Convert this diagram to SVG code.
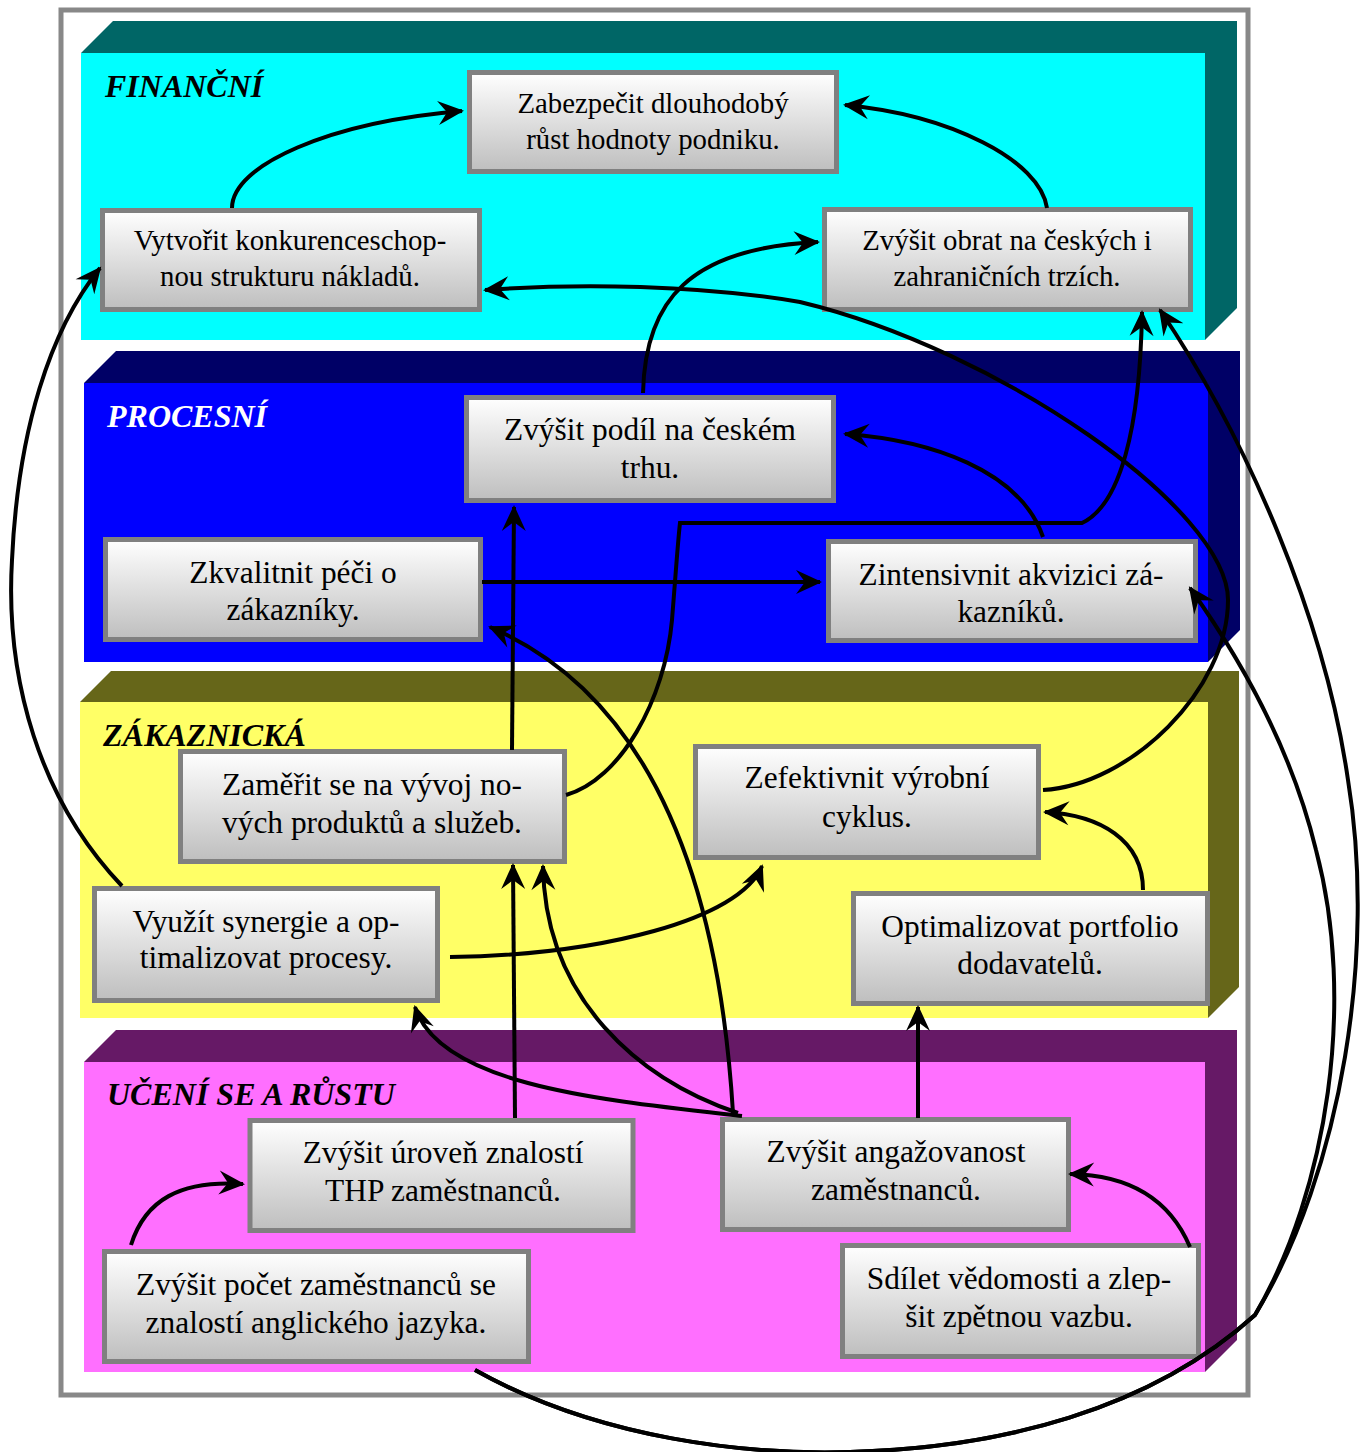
<svg xmlns="http://www.w3.org/2000/svg" width="1363" height="1452" viewBox="0 0 1363 1452">
  <defs>
    <linearGradient id="boxFill" x1="0" y1="0" x2="0" y2="1">
      <stop offset="0" stop-color="#FFFFFF"/>
      <stop offset="1" stop-color="#BEBEBE"/>
    </linearGradient>
    <marker id="arrow" viewBox="-26 -13 29 26" refX="0" refY="0" markerWidth="29" markerHeight="26" orient="auto" markerUnits="userSpaceOnUse">
      <path d="M2,0 L-24,-12 L-15,0 L-24,12 Z" fill="#000"/>
    </marker>
  </defs>
  <style>
    .frame { fill: #FFFFFF; stroke: #888888; stroke-width: 5; }
    .node rect { fill: url(#boxFill); stroke: #808080; stroke-width: 5; }
    .node text { font-family: "Liberation Serif", "Times New Roman", serif; font-size: 31.4px; text-anchor: middle; fill: #000; }
    .node.small text { font-size: 28.8px; }
    .band-label { font-family: "Liberation Serif", "Times New Roman", serif; font-weight: bold; font-style: italic; font-size: 32px; }
    .connectors path { fill: none; stroke: #000; stroke-width: 4; marker-end: url(#arrow); }
  </style>

  <rect x="0" y="0" width="1363" height="1452" fill="#FFFFFF"/>
  <rect class="frame" x="61" y="10" width="1187" height="1385"/>

  <!-- perspective bands -->
  <g id="band-financni">
    <polygon points="81,53 113,21 1237,21 1237,308 1205,340 1205,53" fill="#006666"/>
    <rect x="81" y="53" width="1124" height="287" fill="#00FFFF"/>
    <text class="band-label" x="105" y="97" fill="#000">FINANČNÍ</text>
  </g>
  <g id="band-procesni">
    <polygon points="84,383 116,351 1240,351 1240,630 1208,662 1208,383" fill="#000066"/>
    <rect x="84" y="383" width="1124" height="279" fill="#0000FF"/>
    <text class="band-label" x="107" y="427" fill="#FFFFFF">PROCESNÍ</text>
  </g>
  <g id="band-zakaznicka">
    <polygon points="80,702 111,671 1239,671 1239,987 1208,1018 1208,702" fill="#666619"/>
    <rect x="80" y="702" width="1128" height="316" fill="#FFFF66"/>
    <text class="band-label" x="103" y="746" fill="#000">ZÁKAZNICKÁ</text>
  </g>
  <g id="band-uceni">
    <polygon points="84,1062 116,1030 1237,1030 1237,1340 1205,1372 1205,1062" fill="#661966"/>
    <rect x="84" y="1062" width="1121" height="310" fill="#FF6FFF"/>
    <text class="band-label" x="107" y="1105" fill="#000">UČENÍ SE A RŮSTU</text>
  </g>

  <!-- objectives -->
  <g id="n-rust-hodnoty" class="node small">
    <rect x="469.5" y="72.5" width="367" height="99"/>
    <text x="653" y="113">Zabezpečit dlouhodobý</text>
    <text x="653" y="149">růst hodnoty podniku.</text>
  </g>
  <g id="n-struktura-nakladu" class="node small">
    <rect x="102.5" y="210.5" width="377" height="99"/>
    <text x="290" y="250">Vytvořit konkurenceschop-</text>
    <text x="290" y="286">nou strukturu nákladů.</text>
  </g>
  <g id="n-obrat" class="node small">
    <rect x="824.5" y="209.5" width="366" height="100"/>
    <text x="1007" y="250">Zvýšit obrat na českých i</text>
    <text x="1007" y="286">zahraničních trzích.</text>
  </g>
  <g id="n-podil-trhu" class="node">
    <rect x="466.5" y="397.5" width="367" height="103"/>
    <text x="650" y="440">Zvýšit podíl na českém</text>
    <text x="650" y="478">trhu.</text>
  </g>
  <g id="n-pece-o-zakazniky" class="node">
    <rect x="105.5" y="539.5" width="375" height="100"/>
    <text x="293" y="583">Zkvalitnit péči o</text>
    <text x="293" y="620">zákazníky.</text>
  </g>
  <g id="n-akvizice" class="node">
    <rect x="828.5" y="541.5" width="367" height="99"/>
    <text x="1011" y="585">Zintensivnit akvizici zá-</text>
    <text x="1011" y="622">kazníků.</text>
  </g>
  <g id="n-vyvoj-produktu" class="node">
    <rect x="180.5" y="751.5" width="384" height="110"/>
    <text x="372" y="795">Zaměřit se na vývoj no-</text>
    <text x="372" y="833">vých produktů a služeb.</text>
  </g>
  <g id="n-vyrobni-cyklus" class="node">
    <rect x="695.5" y="746.5" width="343" height="111"/>
    <text x="867" y="788">Zefektivnit výrobní</text>
    <text x="867" y="827">cyklus.</text>
  </g>
  <g id="n-synergie" class="node">
    <rect x="94.5" y="888.5" width="343" height="112"/>
    <text x="266" y="932">Využít synergie a op-</text>
    <text x="266" y="968">timalizovat procesy.</text>
  </g>
  <g id="n-dodavatele" class="node">
    <rect x="853.5" y="893.5" width="354" height="110"/>
    <text x="1030" y="937">Optimalizovat portfolio</text>
    <text x="1030" y="974">dodavatelů.</text>
  </g>
  <g id="n-znalosti-thp" class="node">
    <rect x="250" y="1120.5" width="383" height="110"/>
    <text x="443" y="1163">Zvýšit úroveň znalostí</text>
    <text x="443" y="1201">THP zaměstnanců.</text>
  </g>
  <g id="n-angazovanost" class="node">
    <rect x="722.5" y="1119.5" width="346" height="110"/>
    <text x="896" y="1162">Zvýšit angažovanost</text>
    <text x="896" y="1200">zaměstnanců.</text>
  </g>
  <g id="n-anglictina" class="node">
    <rect x="104.5" y="1251.5" width="424" height="110"/>
    <text x="316" y="1295">Zvýšit počet zaměstnanců se</text>
    <text x="316" y="1333">znalostí anglického jazyka.</text>
  </g>
  <g id="n-vedomosti" class="node">
    <rect x="842.5" y="1245.5" width="356" height="111"/>
    <text x="1019" y="1289">Sdílet vědomosti a zlep-</text>
    <text x="1019" y="1327">šit zpětnou vazbu.</text>
  </g>

  <!-- cause-effect links -->
  <g id="connectors" class="connectors">
    <path d="M232,208 C232,165 330,122 462,111"/>
    <path d="M1047,208 C1040,160 950,115 845,105"/>
    <path d="M643,393 C645,300 690,248 818,242"/>
    <path d="M475,1370 C600,1440 750,1455 850,1452 C1000,1448 1150,1410 1255,1315 C1343,1170 1376,950 1348,780 C1325,620 1248,440 1160,310"/>
    <path d="M475,1370 C600,1440 750,1455 850,1452 C1000,1448 1150,1410 1255,1315 C1328,1190 1356,1000 1316,850 C1293,755 1245,665 1190,588"/>
    <path d="M566,795 C620,780 665,700 672,620 C676,570 678,540 680,523 L1082,523 C1120,505 1140,430 1142,312"/>
    <path d="M122,886 C40,800 5,680 12,560 C18,430 50,330 100,268"/>
    <path d="M482,582 L820,582"/>
    <path d="M512,750 L514,507"/>
    <path d="M515,1118 L513,865"/>
    <path d="M738,1113 C640,1080 545,1000 543,866"/>
    <path d="M742,1116 C600,1100 440,1085 415,1007"/>
    <path d="M733,1113 C720,900 660,700 490,627"/>
    <path d="M918,1118 L918,1007"/>
    <path d="M1143,890 C1143,840 1100,815 1045,812"/>
    <path d="M1043,790 C1130,785 1228,690 1228,600 C1228,510 1000,350 800,302 C700,285 580,283 485,290"/>
    <path d="M1043,537 C1020,470 930,440 845,434"/>
    <path d="M450,957 C600,955 740,920 762,866"/>
    <path d="M131,1245 C145,1200 180,1180 243,1184"/>
    <path d="M1190,1247 C1170,1200 1130,1175 1070,1174"/>
  </g>
</svg>
